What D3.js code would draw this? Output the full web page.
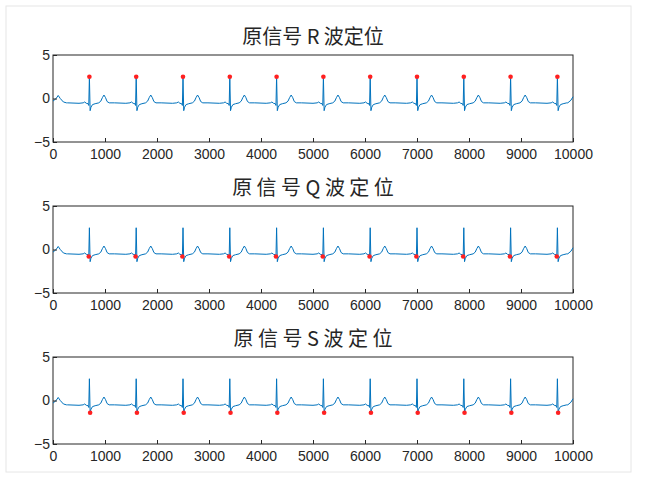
<!DOCTYPE html><html><head><meta charset="utf-8"><script src="https://cdn.jsdelivr.net/npm/d3@7"></script>
<style>body{margin:0;background:#fff}</style></head><body><svg id="c" width="662" height="483"></svg><script>
const titles=["原信号 R 波定位","原 信 号 Q 波 定 位","原 信 号 S 波 定 位"];
const rPeaks=[700,1600,2500,3400,4300,5200,6100,7000,7900,8800,9700];
// one heartbeat: [offset from R, amplitude]
const beatOffsets=[-420,-200,-120,-90,-60,-25,-12,0,14,30,60,110,180,220,250,280,310,340,380,480];
const beatValues=[-0.5,-0.55,-0.5,-0.4,-0.55,-0.6,-0.8,2.5,-1.4,-1.0,-0.7,-0.6,-0.5,-0.3,0.1,0.4,0.1,-0.35,-0.5,-0.5];
const qValue=-0.8, sValue=-1.4, rValue=2.5, qOff=-12, sOff=14;
const xTicks=[0,1000,2000,3000,4000,5000,6000,7000,8000,9000,10000];
const yTicks=[-5,0,5];
const markFns=[p=>[p,rValue],p=>[p+qOff,qValue],p=>[p+sOff,sValue]];
const signal=[[0,-0.3],[60,0.0],[100,0.35],[140,0.0],[200,-0.4],[260,-0.5]];
rPeaks.forEach(p=>beatOffsets.forEach((o,i)=>{const x=p+o;if(x>signal[signal.length-1][0]&&x<9900)signal.push([x,beatValues[i]]);}));
signal.push([9900,-0.5],[9960,-0.2],[10000,0.2]);
const svg=d3.select("#c");
svg.append("rect").attr("x",6).attr("y",6).attr("width",625).attr("height",466).attr("fill","#fff").attr("stroke","#e6e6e6");
const x=d3.scaleLinear().domain([0,10000]).range([53,573]);
const tops=[55,206,357],h=87;
titles.forEach((t,k)=>{
 const y=d3.scaleLinear().domain([-5,5]).range([tops[k]+h,tops[k]]);
 const g=svg.append("g");
 g.append("rect").attr("x",53).attr("y",tops[k]).attr("width",520).attr("height",h).attr("fill","#fff").attr("stroke","#262626");
 g.append("path").datum(signal).attr("fill","none").attr("stroke","#0072BD").attr("stroke-width",1)
  .attr("d",d3.line().x(d=>x(d[0])).y(d=>y(d[1])));
 g.selectAll("circle").data(rPeaks.map(markFns[k])).join("circle").attr("cx",d=>x(d[0])).attr("cy",d=>y(d[1])).attr("r",2.3).attr("fill","#ff2020");
 const ax=g.append("g").attr("transform",`translate(0,${tops[k]+h})`).call(d3.axisBottom(x).tickValues(xTicks).tickSize(-4).tickFormat(d3.format("d")));
 const ay=g.append("g").attr("transform","translate(53,0)").call(d3.axisLeft(y).tickValues(yTicks).tickSize(-4));
 [ax,ay].forEach(a=>{a.select(".domain").remove();a.selectAll("line").attr("stroke","#262626");a.selectAll("text").attr("font-family","Arial, Liberation Sans").attr("font-size",14).attr("fill","#262626");});
 ax.selectAll("text").attr("dy","1.0em");
 g.append("text").attr("x",313).attr("y",tops[k]-11).attr("text-anchor","middle").attr("font-size",20).attr("font-family","Noto Sans CJK SC").attr("fill","#262626").text(t);
});
</script></body></html>
